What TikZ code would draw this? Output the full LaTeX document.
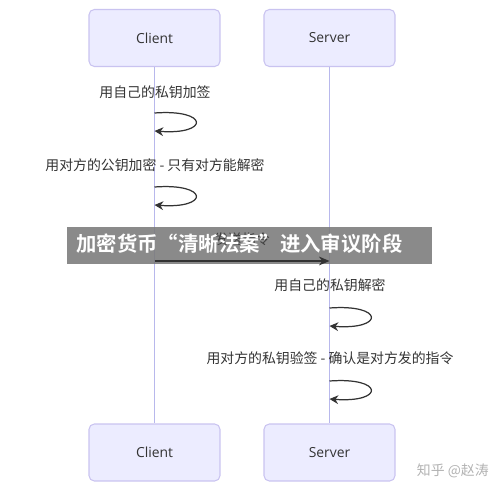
\documentclass[tikz,border=0pt]{standalone}
\usepackage{fontspec}
\setmainfont{Open Sans}
\newfontfamily\cjk{Noto Sans CJK SC}
\newfontfamily\cjkbold{Noto Sans CJK SC Bold}
\usetikzlibrary{arrows.meta}

\definecolor{actorfill}{HTML}{ECECFF}
\definecolor{actorline}{HTML}{C9C3F0}
\definecolor{lifeline}{HTML}{B8B8EC}
\definecolor{textgray}{HTML}{333333}

\tikzset{
  actor/.style={draw=actorline, fill=actorfill, rounded corners=3, line width=0.6pt,
    minimum width=2.62cm, minimum height=1.14cm, text=textgray,
    font=\fontsize{7.9}{9}\selectfont},
  note/.style={text=textgray, font=\cjk\fontsize{7.9}{9}\selectfont, inner sep=0pt},
  selfloop/.style={draw=textgray, line width=0.7pt, -{Stealth[length=5pt,width=5pt]}},
  msg/.style={draw=textgray, line width=0.7pt, -{Stealth[length=6pt,width=5pt]}},
}

\begin{document}
\begin{tikzpicture}[x=0.02cm, y=-0.02cm]
    \useasboundingbox (0, 0) rectangle (500, 492);

    % 参与者
    \node[actor] (C1) at (154.5, 38) {Client};
    \node[actor] (S1) at (329.5, 38) {Server};
    \node[actor] (C2) at (154.5, 452.5) {Client};
    \node[actor] (S2) at (329.5, 452.5) {Server};

    % 生命线
    \draw[lifeline, line width=1pt] (C1) -- (C2);
    \draw[lifeline, line width=1pt] (S1) -- (S2);

    % 自调用的端点
    \coordinate (c1a) at (154.5, 113);
    \coordinate (c1b) at (154.5, 131);
    \coordinate (c2a) at (154.5, 187);
    \coordinate (c2b) at (154.5, 205);
    \coordinate (mc) at (154.5, 261);
    \coordinate (ms) at (329.5, 261);
    \coordinate (s1a) at (329.5, 308);
    \coordinate (s1b) at (329.5, 326);
    \coordinate (s2a) at (329.5, 381);
    \coordinate (s2b) at (329.5, 399);

    % 文字
    \node[note] (n1) at (155, 92) {用自己的私钥加签};
    \node[note] (n2) at (155, 165) {用对方的公钥加密 - 只有对方能解密};
    \node[note] (n4) at (330, 285) {用自己的私钥解密};
    \node[note] (n5) at (330, 358) {用对方的私钥验签 - 确认是对方发的指令};

    % 箭头
    \draw[selfloop] (c1a) .. controls +(55, -4) and +(55, 4) .. (c1b);
    \draw[selfloop] (c2a) .. controls +(55, -4) and +(55, 4) .. (c2b);
    \draw[selfloop] (s1a) .. controls +(55, -4) and +(55, 4) .. (s1b);
    \draw[selfloop] (s2a) .. controls +(55, -4) and +(55, 4) .. (s2b);

    % 横幅 (半透明, 下面的消息还能看见)
    \fill[black!52, opacity=0.88] (67, 227) rectangle (432, 264);
    \node[note, text=black!75] (n3) at (242, 239) {发送指令};
    \draw[msg] (mc) -- (ms);
    \node[anchor=west, text=white, font=\cjkbold\fontsize{11.6}{13}\selectfont, inner sep=0pt]
      (banner) at (76, 244) {加密货币“清晰法案”进入审议阶段};

    % 水印
    \node[anchor=east, text=black!30, font=\cjk\fontsize{7.9}{9}\selectfont, inner sep=0pt]
      (wm) at (489, 471) {知乎 @赵涛};

\end{tikzpicture}
\end{document}
